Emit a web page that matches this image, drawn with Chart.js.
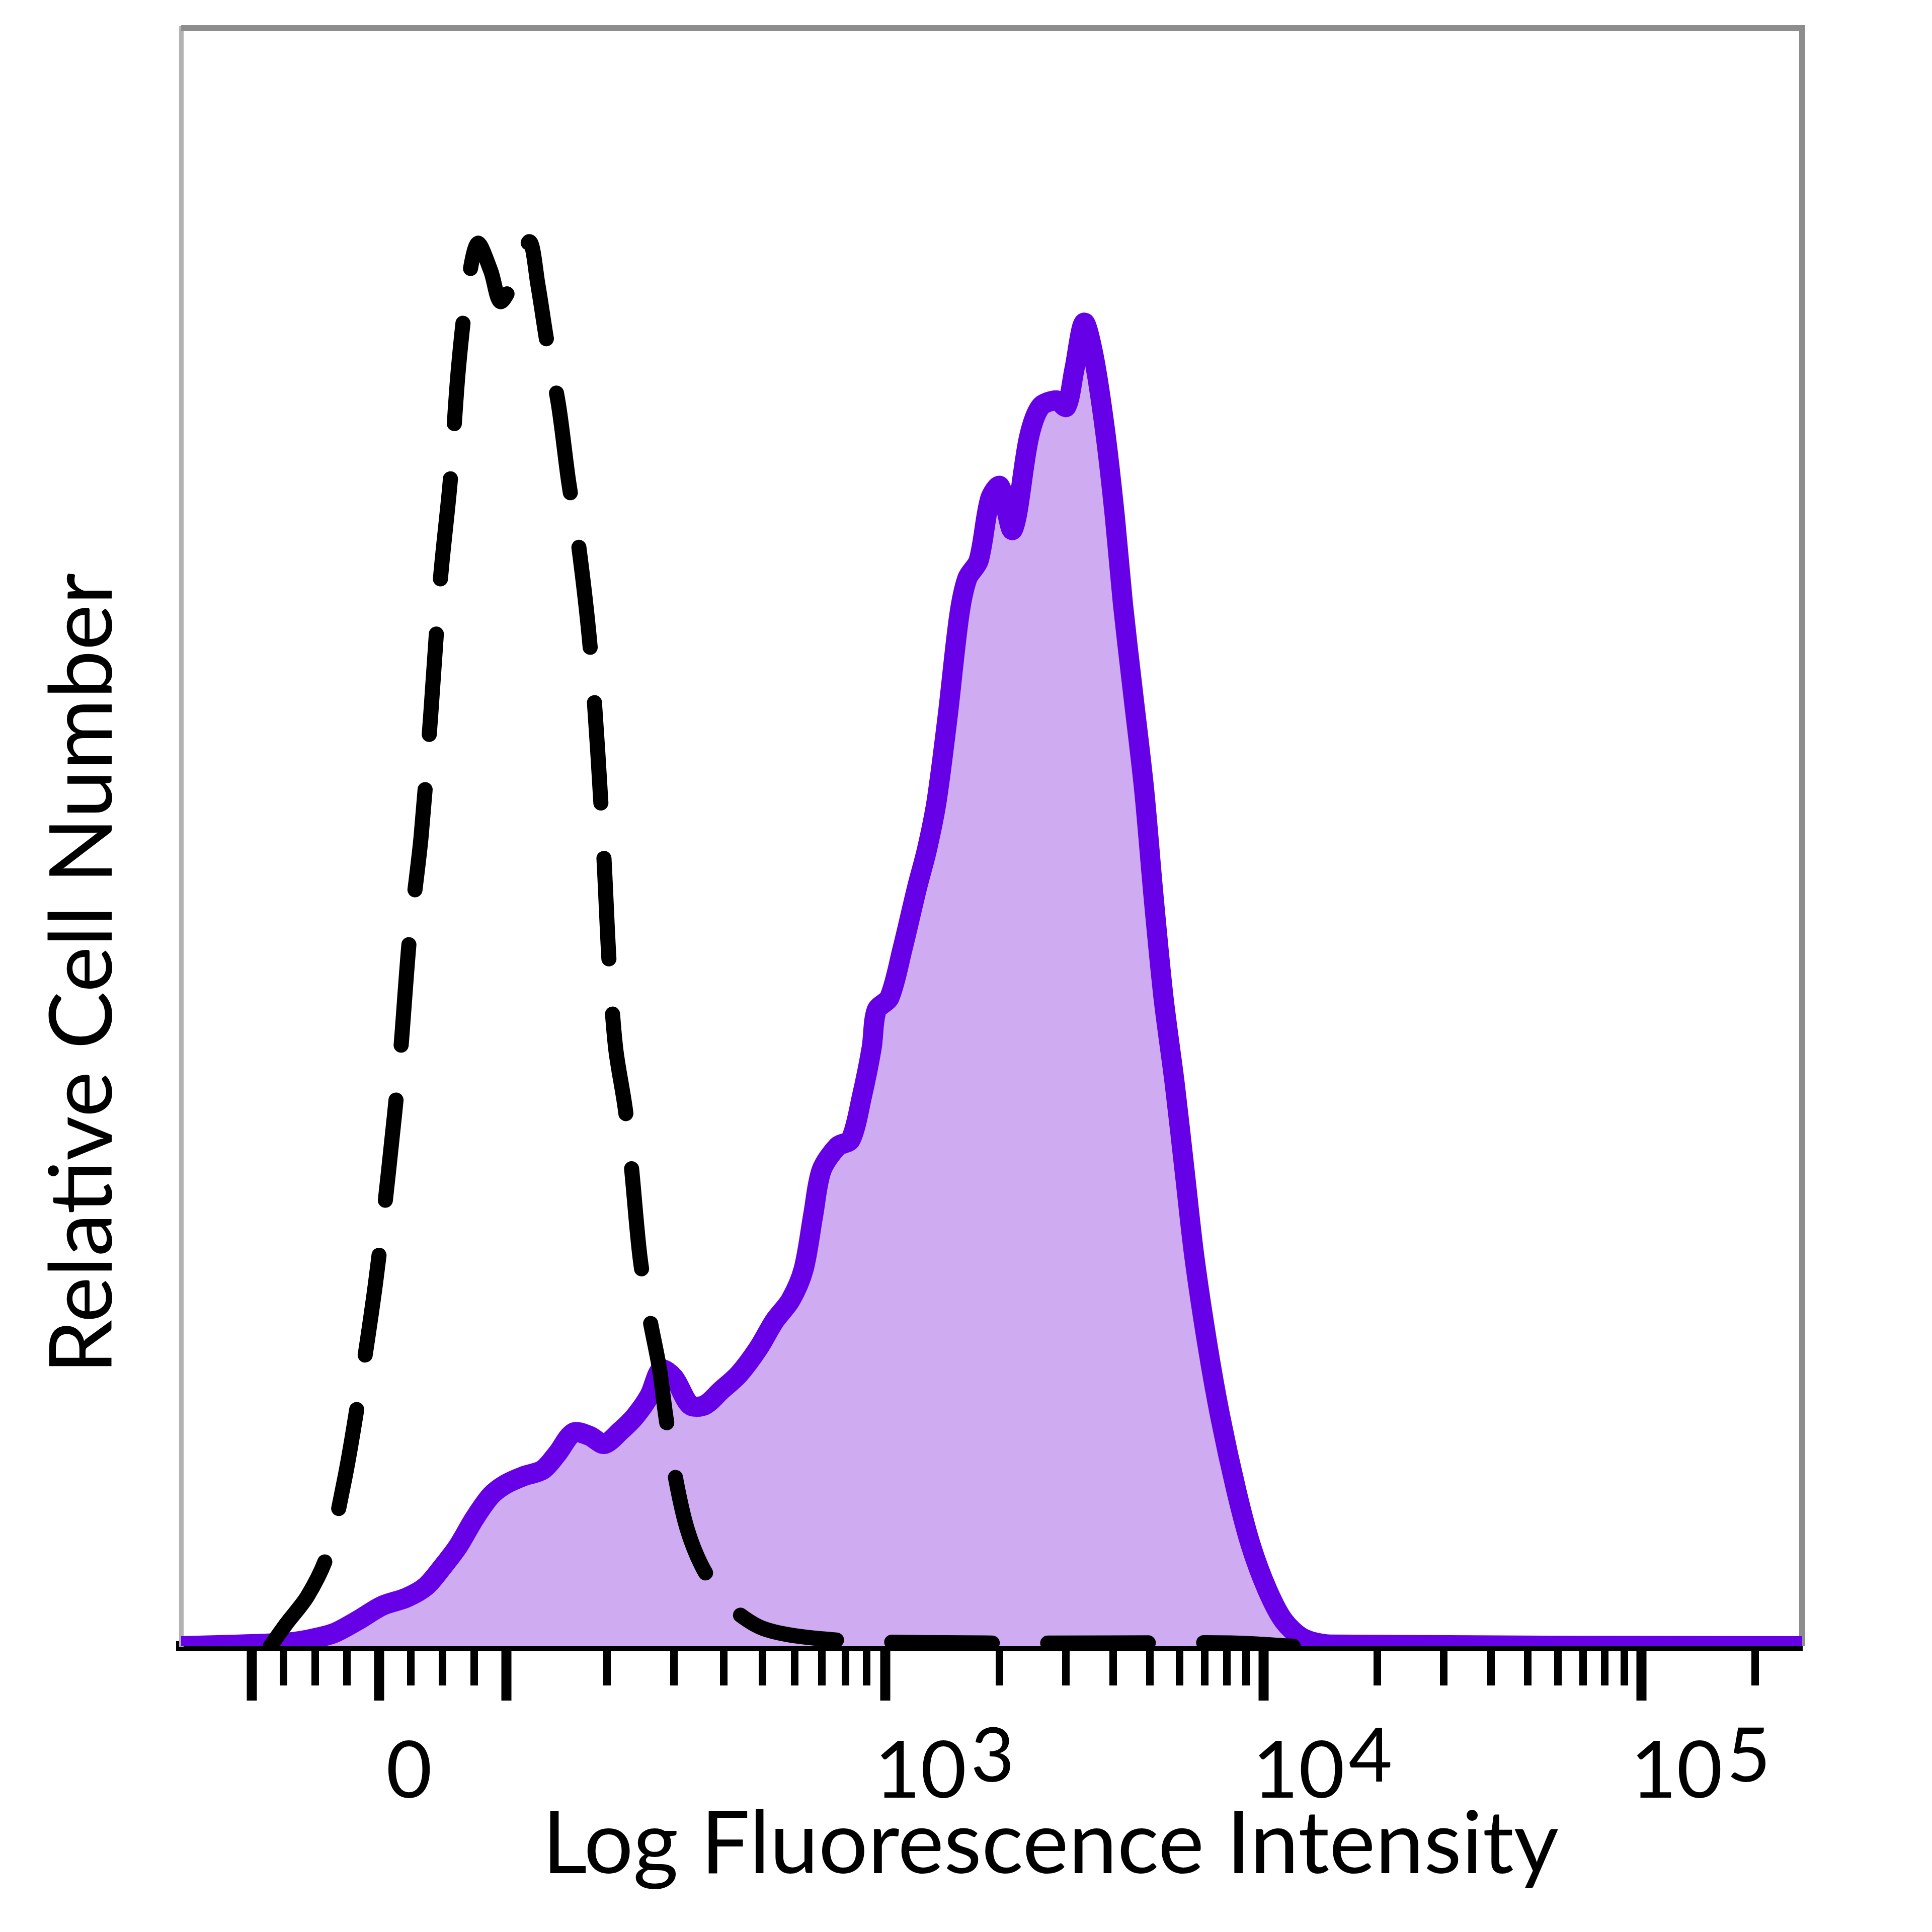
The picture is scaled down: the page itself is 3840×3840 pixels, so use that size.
<!DOCTYPE html>
<html>
<head>
<meta charset="utf-8">
<style>
  html, body { margin: 0; padding: 0; background: #fff; }
  canvas { display: block; }
</style>
<script src="https://cdn.jsdelivr.net/npm/chart.js@4.4.0/dist/chart.umd.min.js"></script>
</head>
<body>
<canvas id="histogram" width="3840" height="3840"></canvas>
<script>
// x = display channel (0..1000 across the plot), y = % of max
const sampleX = [0, 63, 78, 94, 109, 124, 139, 151, 162, 171, 181, 191, 200, 211, 223, 232, 242, 252, 261, 271,
  280, 289, 296, 304, 314, 323, 333, 344, 356, 366, 376, 384, 390, 395, 405, 413, 420, 426, 429, 437,
  445, 454, 460, 466, 473, 480, 485, 492, 499, 505, 513, 523, 530, 540, 546, 551, 557, 563, 570, 576,
  581, 587, 594, 600, 606, 613, 619, 625, 633, 641, 651, 660, 670, 680, 692, 709, 1000];
const sampleY = [0, 0.2, 0.4, 0.8, 1.6, 2.5, 3.0, 3.7, 5.0, 6.2, 7.9, 9.3, 10.0, 10.5, 10.9, 11.9, 13.2, 13.0, 12.5, 13.3,
  14.2, 15.5, 17.1, 16.6, 14.9, 14.9, 15.8, 16.8, 18.4, 20.1, 21.4, 23.3, 26.7, 29.4, 30.9, 31.3, 34.0, 37.0, 39.3, 40.1,
  43.1, 46.9, 49.2, 52.2, 57.6, 63.7, 66.0, 67.1, 70.9, 71.7, 69.0, 74.7, 76.6, 77.0, 76.6, 78.9, 81.8, 79.7, 75.1, 69.8,
  64.4, 59.1, 53.0, 46.2, 40.1, 34.7, 29.4, 24.1, 18.7, 14.2, 9.6, 6.2, 3.5, 1.6, 0.5, 0.1, 0];

const controlX = [55, 65, 78, 90, 101, 110, 120, 128, 135, 141, 148, 154, 160, 166, 171, 177, 183, 191, 197, 206,
  215, 220, 226, 233, 239, 245, 252, 257, 261, 264, 268, 274, 278, 283, 289, 295, 299, 305, 312, 321,
  333, 344, 359, 382, 420, 496, 572, 648, 686];
const controlY = [0, 1.4, 3.1, 5.6, 10.4, 15.7, 22.5, 29.4, 36.3, 43.9, 50.0, 57.6, 66.0, 72.0, 78.9, 84.2, 86.7, 85.0, 83.1, 84.6,
  86.8, 84.2, 80.4, 76.6, 72.0, 68.2, 62.1, 55.3, 48.4, 42.3, 37.0, 33.2, 29.4, 24.1, 20.3, 17.2, 14.2, 10.4, 7.3, 5.0,
  3.1, 2.0, 1.1, 0.6, 0.3, 0.2, 0.2, 0.2, 0];

// tick positions in fluorescence units
const majorTicks = [-100, 0, 100, 1000, 10000, 100000];
const minorTicks = [-75, -50, -25, 25, 50, 75,
  200, 300, 400, 500, 600, 700, 800, 900,
  2000, 3000, 4000, 5000, 6000, 7000, 8000, 9000,
  20000, 30000, 40000, 50000, 60000, 70000, 80000, 90000, 200000];
const tickLabels = [
  { value: 0, text: '0' },
  { value: 1000, text: '10', exp: '3' },
  { value: 10000, text: '10', exp: '4' },
  { value: 100000, text: '10', exp: '5' }
];

const FONT = 'Lato, "DejaVu Sans", sans-serif';

// biexponential-like display: linear around 0, log above 10^3
function toChannel(v) {
  const zero = 122, lin = 78.5, dec3 = 434.5, decade = 233.2;
  const a = Math.abs(v), s = Math.sign(v);
  if (a <= 100) return zero + s * lin * a / 100;
  if (a < 1000) {
    const f = (Math.asinh(a / 100) - Math.asinh(1)) / (Math.asinh(10) - Math.asinh(1));
    return zero + s * (lin + (dec3 - zero - lin) * f);
  }
  return dec3 + decade * Math.log10(a / 1000);
}

const frame = {
  id: 'frame',
  beforeDatasetsDraw(chart) {
    const { ctx, chartArea: a } = chart;
    ctx.save();
    ctx.strokeStyle = '#8d8d8d';
    ctx.lineWidth = 12;
    ctx.beginPath();
    ctx.moveTo(a.left, a.top);
    ctx.lineTo(a.right, a.top);
    ctx.lineTo(a.right, a.bottom);
    ctx.stroke();
    ctx.restore();
  }
};

const axisText = {
  id: 'axisText',
  afterDraw(chart) {
    const { ctx, chartArea: a, scales } = chart;
    ctx.save();
    ctx.fillStyle = '#000';
    ctx.textBaseline = 'alphabetic';

    // tick labels
    const size = 158;
    const base = a.bottom + 301;
    tickLabels.forEach(t => {
      const px = scales.x.getPixelForValue(toChannel(t.value));
      ctx.font = size + 'px ' + FONT;
      if (!t.exp) {
        ctx.textAlign = 'center';
        ctx.fillText(t.text, px + 60, base);
        return;
      }
      ctx.textAlign = 'left';
      const left = px - 22;
      ctx.fillText(t.text, left, base);
      const w = ctx.measureText(t.text).width;
      ctx.font = Math.round(size * 0.95) + 'px ' + FONT;
      ctx.fillText(t.exp, left + w + 8, base - 32);
    });

    // x title
    const xt = 'Log Fluorescence Intensity';
    ctx.font = '100px ' + FONT;
    let fs = 100 * 2020 / ctx.measureText(xt).width;
    ctx.font = fs.toFixed(1) + 'px ' + FONT;
    ctx.textAlign = 'center';
    ctx.fillText(xt, (a.left + a.right) / 2 + 117, a.bottom + 451);

    // y title
    const yt = 'Relative Cell Number';
    ctx.font = '100px ' + FONT;
    fs = 100 * 1592 / ctx.measureText(yt).width;
    ctx.font = fs.toFixed(1) + 'px ' + FONT;
    ctx.translate(222, a.bottom - 1337);
    ctx.rotate(-Math.PI / 2);
    ctx.fillText(yt, 0, 0);
    ctx.restore();
  }
};

new Chart(document.getElementById('histogram'), {
  type: 'line',
  data: {
    datasets: [
      {
        label: 'Isotype control',
        data: controlX.map((x, i) => ({ x, y: controlY[i] })),
        borderColor: '#000',
        borderWidth: 30,
        borderDash: [200, 110],
        borderCapStyle: 'round',
        borderJoinStyle: 'round',
        fill: false,
        tension: 0.3,
        pointRadius: 0
      },
      {
        label: 'Sample',
        data: sampleX.map((x, i) => ({ x, y: sampleY[i] })),
        borderColor: 'rgb(102, 0, 230)',
        backgroundColor: 'rgb(207, 171, 241)',
        borderWidth: 40,
        borderJoinStyle: 'round',
        fill: 'origin',
        tension: 0.3,
        pointRadius: 0
      }
    ]
  },
  options: {
    responsive: false,
    animation: false,
    devicePixelRatio: 1,
    layout: { padding: { left: 360, top: 56, right: 258, bottom: 0 } },
    plugins: { legend: { display: false }, tooltip: { enabled: false } },
    scales: {
      x: {
        type: 'linear',
        position: 'bottom',
        weight: 0,
        min: 0,
        max: 1000,
        afterBuildTicks: s => { s.ticks = majorTicks.map(v => ({ value: toChannel(v) })); },
        afterFit: s => { s.height = 0; },
        ticks: { display: false, autoSkip: false },
        grid: { drawOnChartArea: false, tickLength: 108, tickWidth: 20, tickColor: '#000' },
        border: { color: '#000', width: 20 }
      },
      xMinor: {
        type: 'linear',
        position: 'bottom',
        weight: 1,
        min: 0,
        max: 1000,
        afterBuildTicks: s => { s.ticks = minorTicks.map(v => ({ value: toChannel(v) })); },
        afterFit: s => { s.height = 568; },
        ticks: { display: false, autoSkip: false },
        grid: { drawOnChartArea: false, tickLength: 78, tickWidth: 15, tickColor: '#000' },
        border: { display: false }
      },
      y: {
        min: 0,
        max: 100,
        afterFit: s => { s.width = 0; },
        ticks: { display: false },
        grid: { drawOnChartArea: false, drawTicks: false },
        border: { color: '#b3b3b3', width: 9 }
      }
    }
  },
  plugins: [frame, axisText]
});
</script>
</body>
</html>
